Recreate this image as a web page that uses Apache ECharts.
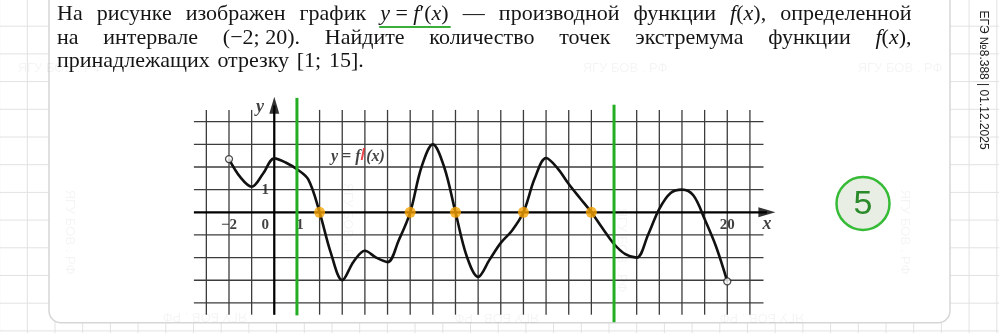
<!DOCTYPE html>
<html><head><meta charset="utf-8">
<script src="https://cdn.jsdelivr.net/npm/echarts@6.0.0/dist/echarts.min.js"></script>
<style>html,body{margin:0;padding:0;background:#fff}#c{width:999px;height:333px}</style>
</head><body><div id="c"></div>
<script>
// ---------- data ----------
const xs = [-2,-1.5,-1,-0.5,0,0.5,1,1.5,2,2.5,3,3.5,4,4.5,5,5.5,6,6.5,7,7.5,8,8.5,9,9.5,10,10.5,11,11.5,12,12.5,13,13.5,14,14.5,15,15.5,16,16.5,17,17.5,18,18.5,19,19.5,20];
const ys = [2.35,1.55,1.13,1.7,2.38,2.2,1.9,1.45,0,-1.8,-3.0,-2.18,-1.7,-2.0,-2.2,-1.22,0,2.0,3.0,2.0,0,-1.95,-2.85,-2.1,-1.35,-0.8,0,1.5,2.4,1.95,1.25,0.62,0,-0.72,-1.4,-1.85,-2.0,-1.0,0.15,0.85,1.0,0.75,-0.3,-1.5,-3.05];
const zeroXs = [2, 6, 8, 11, 14];
const boundXs = [1, 15];
const xTicks = [-3,-2,-1,0,1,2,3,4,5,6,7,8,9,10,11,12,13,14,15,16,17,18,19,20,21];
const yTicks = [-4,-3,-2,-1,1,2,3,4];
const tickLabels = ['−2','0','1','20','1'];
const tickLabelAt = [[-2,-0.55],[-0.4,-0.55],[1.14,-0.55],[20,-0.55],[-0.4,1]];
const axisNames = ['x','y'];
const axisNameAt = [[21.75,-0.55],[-0.63,4.62]];
const curveLabel = ['y = f','/','(x)'];
const curveLabelAt = [2.5, 2.44];
const titleLines = [
  ['На','рисунке','изображен','график','*y* = *f*′(*x*)','—','производной','функции','*f*(*x*),','определенной'],
  ['на','интервале','(−2; 20).','Найдите','количество','точек','экстремума','функции','*f*(*x*),'],
  ['принадлежащих','отрезку','[1;','15].']
];
const answer = '5';
const sideText = 'ЕГЭ №8.388 | 01.12.2025';
const watermark = 'ЯГУ БОВ . РФ';

// ---------- page decoration ----------
const elements = [];
for (let x = -0.4; x < 1000; x += 27.7) elements.push({type:'line', silent:true, z:0, shape:{x1:x,y1:0,x2:x,y2:333}, style:{stroke:'#e2e2e2', lineWidth:1}});
for (let y = -1.5; y < 334; y += 27.7) elements.push({type:'line', silent:true, z:0, shape:{x1:0,y1:y,x2:999,y2:y}, style:{stroke:'#e2e2e2', lineWidth:1}});
elements.push({type:'rect', silent:true, z:1, shape:{x:49,y:-20,width:901,height:342.7,r:12}, style:{fill:'#fff', stroke:'#d6d6d6', lineWidth:1.5}});
const wm = [[60,68,0],[625,68,0],[900,68,0],[70,232,-Math.PI/2],[905,232,-Math.PI/2],[348,225,-Math.PI/2],[622,250,-Math.PI/2],[205,317,Math.PI],[497,318,Math.PI],[762,318,Math.PI]];
wm.forEach(p => elements.push({type:'text', silent:true, z:2, x:p[0], y:p[1], rotation:p[2], style:{text:watermark, font:'13px "Liberation Sans"', fill:'rgba(0,0,0,0.045)', align:'center', verticalAlign:'middle'}}));

// title text, justified like the source
const FS = 22, L = 57, R = 911.5;
const lineMid = [14.5, 37.8, 61.1];
const ctx = document.createElement('canvas').getContext('2d');
const segs = w => w.split('*').map((t,i)=>({t, it:i%2===1})).filter(s=>s.t.length);
const fontOf = it => (it?'italic ':'') + FS + 'px "Liberation Serif"';
const wWidth = w => segs(w).reduce((a,s)=>{ctx.font=fontOf(s.it); return a+ctx.measureText(s.t).width;},0);
ctx.font = fontOf(false);
const spaceW = ctx.measureText(' ').width;
let underline = null;
titleLines.forEach((words, li) => {
  const widths = words.map(wWidth);
  const total = widths.reduce((a,b)=>a+b,0);
  const gap = li < titleLines.length-1 ? (R-L-total)/(words.length-1) : spaceW*1.4;
  let x = L;
  words.forEach((w, wi) => {
    const x0 = x;
    segs(w).forEach(s => {
      ctx.font = fontOf(s.it);
      elements.push({type:'text', silent:true, z:2, x:x, y:lineMid[li], style:{text:s.t, font:fontOf(s.it), fill:'#151515', align:'left', verticalAlign:'middle'}});
      x += ctx.measureText(s.t).width;
    });
    if (li===0 && wi===4) underline = [x0, x];
    x += gap;
  });
});
if (underline) elements.push({type:'line', silent:true, z:2, shape:{x1:underline[0]-1,y1:27,x2:underline[1]+2,y2:27}, style:{stroke:'#3aad3a', lineWidth:2}});

elements.push({type:'circle', silent:true, z:2, shape:{cx:863,cy:203.5,r:26.5}, style:{fill:'#e9eee5', stroke:'#35bb35', lineWidth:2.5}});
elements.push({type:'text', silent:true, z:3, x:863, y:205, style:{text:answer, font:'34px "Liberation Sans"', fill:'#2a8a2a', align:'center', verticalAlign:'middle'}});
elements.push({type:'text', silent:true, z:2, x:983, y:80, rotation:-Math.PI/2, style:{text:sideText, font:'12px "Liberation Sans"', fill:'#222', align:'center', verticalAlign:'middle'}});

// ---------- chart ----------
const segRender = (color, width) => (params, api) => {
  const p1 = api.coord([api.value(0), api.value(1)]);
  const p2 = api.coord([api.value(2), api.value(3)]);
  return {type:'line', shape:{x1:p1[0],y1:p1[1],x2:p2[0],y2:p2[1]}, style:{stroke:color, lineWidth:width}};
};
const gridSegs = xTicks.map(x=>[x,-4.52,x,4.52]).concat(yTicks.map(y=>[-3.55,y,21.6,y]));
const axisSegs = [[-3.55,0,21.75,0],[0,-4.52,0,4.72]];
const greenSegs = [[boundXs[0],-4.55,boundXs[0],5.05],[boundXs[1],-4.85,boundXs[1],4.75]];
const serif = '"Liberation Serif"';

const chart = echarts.init(document.getElementById('c'), null, {renderer:'canvas'});
chart.setOption({
  animation:false,
  backgroundColor:'#fff',
  graphic:{elements},
  grid:{left:192.76, top:94.5, width:586.6, height:228.8, containLabel:false},
  xAxis:{type:'value', min:-3.6, max:22.3, show:false},
  yAxis:{type:'value', min:-4.9, max:5.2, show:false},
  series:[
    {type:'custom', name:'grid', silent:true, z:3, data:gridSegs, renderItem:segRender('#3c3c3c',1.3)},
    {type:'custom', name:'axes', silent:true, z:4, data:axisSegs, renderItem:segRender('#000',2.2)},
    {type:'scatter', name:'arrows', silent:true, z:4, symbol:'triangle', symbolSize:[10,17], itemStyle:{color:'#000'},
      data:[{value:[axisSegs[0][2],0], symbolRotate:-90},{value:[0,axisSegs[1][3]], symbolRotate:0}]},
    {type:'line', name:'f\'', z:5, data:xs.map((x,i)=>[x,ys[i]]), smooth:0.35, symbol:'none', lineStyle:{color:'#111', width:2.6}},
    {type:'scatter', name:'ticks', silent:true, z:6, symbolSize:0.1, itemStyle:{color:'transparent'},
      data:tickLabels.map((t,i)=>({value:tickLabelAt[i], name:t})),
      label:{show:true, position:'inside', formatter:'{b}', fontFamily:serif, fontWeight:'bold', fontSize:15, color:'#111'}},
    {type:'scatter', name:'axisNames', silent:true, z:6, symbolSize:0.1, itemStyle:{color:'transparent'},
      data:axisNames.map((t,i)=>({value:axisNameAt[i], name:t})),
      label:{show:true, position:'inside', formatter:'{b}', fontFamily:serif, fontWeight:'bold', fontStyle:'italic', fontSize:18, color:'#111'}},
    {type:'scatter', name:'curveLabel', silent:true, z:6, symbolSize:0.1, itemStyle:{color:'transparent'},
      data:[{value:curveLabelAt}],
      label:{show:true, position:'right', distance:0,
        formatter:()=>'{a|'+curveLabel[0]+'}{r|'+curveLabel[1]+'}{a|'+curveLabel[2]+'}',
        rich:{a:{fontFamily:serif, fontWeight:'bold', fontStyle:'italic', fontSize:16, color:'#111'},
              r:{fontFamily:'"Liberation Sans"', fontWeight:'bold', fontSize:17, color:'#e8151b', padding:[0,1,4,0]}}}},
    {type:'custom', name:'bounds', silent:true, z:7, data:greenSegs, renderItem:segRender('#22ad22',3)},
    {type:'scatter', name:'zeros', silent:true, z:8, symbolSize:11, itemStyle:{color:'#f6a300'}, data:zeroXs.map(x=>[x,0])},
    {type:'scatter', name:'ends', silent:true, z:9, symbolSize:7, itemStyle:{color:'#fff', borderColor:'#222', borderWidth:1.3},
      data:[[xs[0],ys[0]],[xs[xs.length-1],ys[ys.length-1]]]}
  ]
});
</script></body></html>
